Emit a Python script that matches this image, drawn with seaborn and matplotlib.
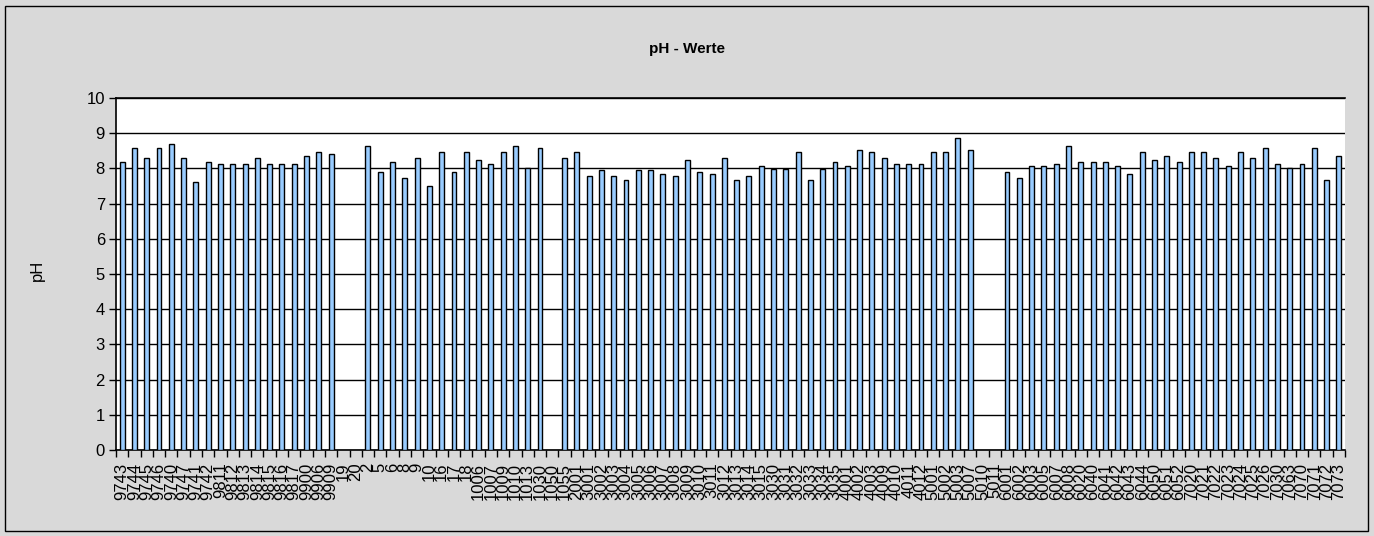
import matplotlib
matplotlib.use('Agg')
import matplotlib.pyplot as plt
import seaborn as sns
import numpy as np
import pandas as pd
from matplotlib.patches import Rectangle

# ---------------- data ----------------
probe_labels = [
    "9743", "9744", "9745", "9746", "9740", "9747", "9741", "9742",
    "9811", "9812", "9813", "9814", "9815", "9816", "9817",
    "9900", "9906", "9909",
    "19", "20",
    "2", "5", "6", "8", "9",
    "10", "16", "17", "18",
    "1006", "1007", "1009", "1010", "1013", "1030",
    "1050", "1055",
    "2001",
    "3001", "3002", "3003", "3004", "3005", "3006", "3007", "3008", "3009", "3010",
    "3011", "3012", "3013", "3014", "3015", "3030", "3031", "3032", "3033", "3034", "3035",
    "4001", "4002", "4003", "4009", "4010", "4011", "4012",
    "5001", "5002", "5003", "5007", "5010", "5011",
    "6001", "6002", "6003", "6005", "6007", "6008", "6020", "6040", "6041", "6042",
    "6043", "6044", "6050", "6051", "6052",
    "7020", "7021", "7022", "7023", "7024", "7025", "7026", "7030", "7063", "7070",
    "7071", "7072", "7073",
]

ph_values = [
    8.18, 8.58, 8.30, 8.58, 8.69, 8.30, 7.60, 8.18,
    8.12, 8.12, 8.12, 8.30, 8.12, 8.12, 8.12,
    8.35, 8.46, 8.40,
    np.nan, np.nan,
    8.63, 7.89, 8.18, 7.72, 8.30,
    7.49, 8.46, 7.89, 8.46,
    8.23, 8.12, 8.46, 8.63, 8.00, 8.58,
    np.nan, 8.30,
    8.46,
    7.77, 7.95, 7.77, 7.66, 7.95, 7.95, 7.83, 7.77, 8.23, 7.89,
    7.83, 8.30, 7.66, 7.77, 8.06, 7.97, 7.97, 8.46, 7.66, 7.97, 8.18,
    8.06, 8.52, 8.46, 8.30, 8.12, 8.12, 8.12,
    8.46, 8.46, 8.86, 8.52, np.nan, np.nan,
    7.89, 7.72, 8.06, 8.06, 8.12, 8.63, 8.18, 8.18, 8.18, 8.06,
    7.83, 8.46, 8.23, 8.35, 8.18,
    8.46, 8.46, 8.30, 8.06, 8.46, 8.30, 8.58, 8.12, 8.00, 8.12,
    8.58, 7.66, 8.35,
]

y_ticks = [0, 1, 2, 3, 4, 5, 6, 7, 8, 9, 10]

title_text = "pH - Werte"
y_title = "pH"

# ---------------- figure ----------------
plt.rcParams['font.family'] = ['Liberation Sans', 'DejaVu Sans']

W, H = 1374, 536
fig = plt.figure(figsize=(W / 100, H / 100), dpi=100)
fig.patch.set_facecolor('#D9D9D9')

ax = fig.add_axes([116 / W, 1 - 450 / H, (1345 - 116) / W, (450 - 98) / H])
ax.set_facecolor('white')

df = pd.DataFrame({"Probe": probe_labels, "pH": ph_values})
sns.barplot(data=df, x="Probe", y="pH", order=probe_labels, color='#99CCFF',
            saturation=1, edgecolor='black', linewidth=1.0, width=0.4,
            errorbar=None, ax=ax, zorder=3)

n = len(probe_labels)
ax.set_xlim(-0.5, n - 0.5)
ax.set_ylim(0, 10)
ax.set_yticks(y_ticks)
ax.set_yticklabels([str(t) for t in y_ticks], fontsize=12)
ax.yaxis.grid(True, color='black', linewidth=1.0, zorder=0)
ax.xaxis.grid(False)
ax.set_axisbelow(True)

ax.set_xticks(range(n))
ax.set_xticklabels(probe_labels, rotation=90, fontsize=12)
ax.set_xticks(np.arange(-0.5, n, 1), minor=True)
ax.tick_params(axis='x', which='major', length=0, pad=9, colors='black')
ax.tick_params(axis='x', which='minor', length=5, width=1, direction='out', color='black')
ax.tick_params(axis='y', length=5, width=1, direction='out', color='black', pad=3)

ax.set_xlabel("")
ax.set_ylabel("")

for side in ['left', 'bottom', 'top']:
    ax.spines[side].set_color('black')
    ax.spines[side].set_linewidth(1.2)
ax.spines['right'].set_visible(False)

fig.text(37 / W, 1 - 270 / H, y_title, rotation=90, ha='center', va='center', fontsize=12)
fig.text(0.5, 1 - 49 / H, title_text, ha='center', va='center', fontsize=11, fontweight='bold')

fig.add_artist(Rectangle((5 / W, 5 / H), (1368 - 5) / W, (530 - 5) / H,
                         transform=fig.transFigure, fill=False,
                         edgecolor='black', linewidth=1.0))

fig.savefig('out.png', dpi=100, facecolor=fig.get_facecolor())
